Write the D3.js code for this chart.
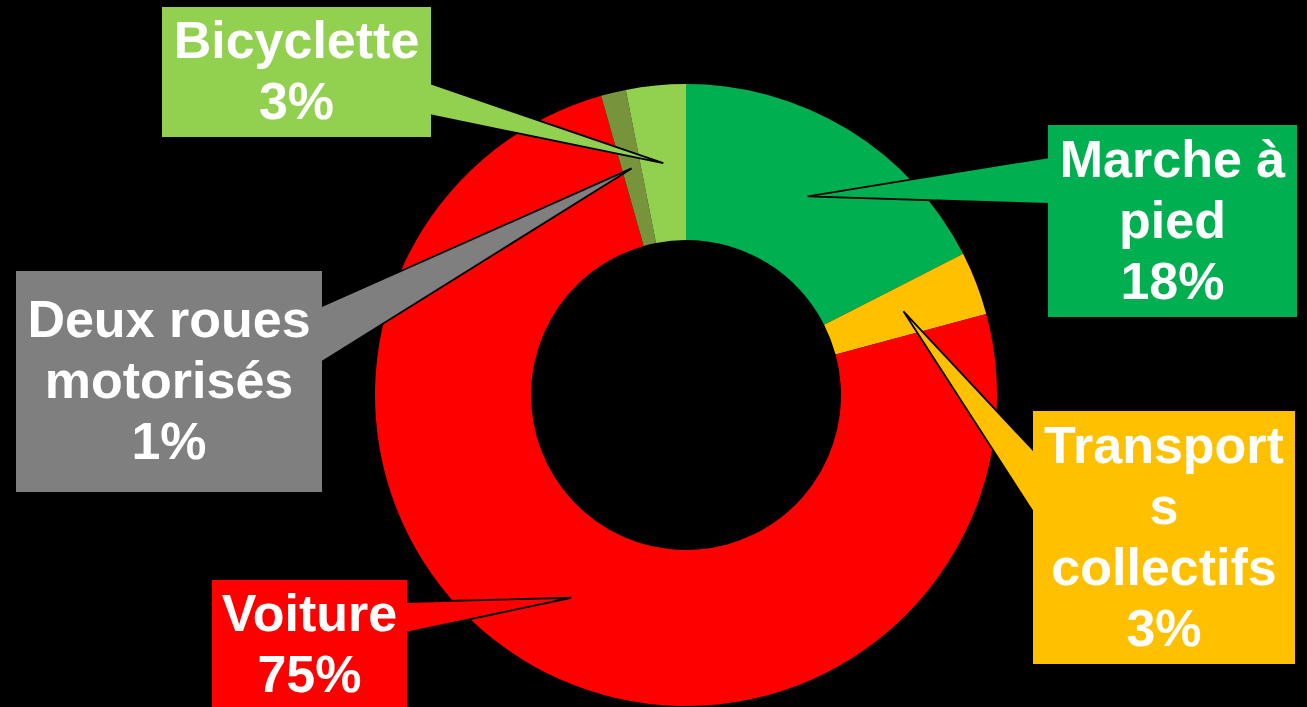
<!DOCTYPE html>
<html>
<head>
<meta charset="utf-8">
<script src="https://cdn.jsdelivr.net/npm/d3@7"></script>
<style>
  html, body { margin: 0; padding: 0; background: #000; overflow: hidden; }
  svg { display: block; }
  .lbl { font-family: "Liberation Sans", Arial, sans-serif; font-weight: bold; font-size: 52px; fill: #fff; }
</style>
</head>
<body>
<svg id="chart" width="1307" height="707"></svg>
<script>
// chart data
const categories = ["Marche à pied", "Transports collectifs", "Voiture", "Deux roues motorisés", "Bicyclette"];
const shares = [17.5, 3.3, 74.8, 1.3, 3.1];
const percentLabels = ["18%", "3%", "75%", "1%", "3%"];
const labelLines = [
  ["Marche à", "pied"],
  ["Transport", "s", "collectifs"],
  ["Voiture"],
  ["Deux roues", "motorisés"],
  ["Bicyclette"]
];
const sliceColors = ["#00B050", "#FFC000", "#FF0000", "#77933C", "#92D050"];
const boxColors = ["#00B050", "#FFC000", "#FF0000", "#7F7F7F", "#92D050"];

// layout of the callout boxes (x, y, w, h) and where the pointer leaves the box
const boxes = [
  { x: 1048, y: 125, w: 249, h: 192, side: "left", y0: 157, y1: 204 },
  { x: 1033, y: 411, w: 262, h: 253, side: "left", y0: 452, y1: 515 },
  { x: 212, y: 580, w: 195, h: 129, side: "right", y0: 602, y1: 633 },
  { x: 16, y: 271, w: 306, h: 221, side: "right", y0: 307, y1: 363 },
  { x: 162, y: 7, w: 269, h: 130, side: "right", y0: 83, y1: 115 }
];

const svg = d3.select("#chart");
const cx = 686, cy = 395;
const outerR = 311, innerR = 155;
const lineH = 61;

const data = categories.map((c, i) => ({ name: c, value: shares[i], i: i }));

const pie = d3.pie().value(d => d.value).sort(null);
const arc = d3.arc().innerRadius(innerR).outerRadius(outerR);
const arcs = pie(data);

const g = svg.append("g").attr("transform", "translate(" + cx + "," + cy + ")");

g.selectAll("path.slice")
  .data(arcs)
  .enter()
  .append("path")
  .attr("class", "slice")
  .attr("d", arc)
  .attr("fill", d => sliceColors[d.data.i]);

// pointers from box to slice centroid
const pointers = svg.append("g");
arcs.forEach(d => {
  const b = boxes[d.data.i];
  const c = arc.centroid(d);
  const tip = [c[0] + cx, c[1] + cy];
  const ex = b.side === "left" ? b.x + 2 : b.x + b.w - 2;
  const pts = [[ex, b.y0], tip, [ex, b.y1]];
  pointers.append("path")
    .attr("d", "M" + pts.map(p => p.join(",")).join("L") + "Z")
    .attr("fill", boxColors[d.data.i])
    .attr("stroke", "#000")
    .attr("stroke-width", 1.8)
    .attr("stroke-linejoin", "miter");
});

// boxes with text
const labels = svg.append("g");
data.forEach(d => {
  const b = boxes[d.i];
  const lines = labelLines[d.i].concat([percentLabels[d.i]]);
  labels.append("rect")
    .attr("x", b.x).attr("y", b.y)
    .attr("width", b.w).attr("height", b.h)
    .attr("fill", boxColors[d.i]);
  const midY = b.y + b.h / 2;
  const first = midY - (lines.length - 1) * lineH / 2 + 16.5;
  const t = labels.append("text")
    .attr("class", "lbl")
    .attr("text-anchor", "middle");
  lines.forEach((ln, k) => {
    t.append("tspan")
      .attr("x", b.x + b.w / 2)
      .attr("y", first + k * lineH)
      .text(ln);
  });
});
</script>
</body>
</html>
